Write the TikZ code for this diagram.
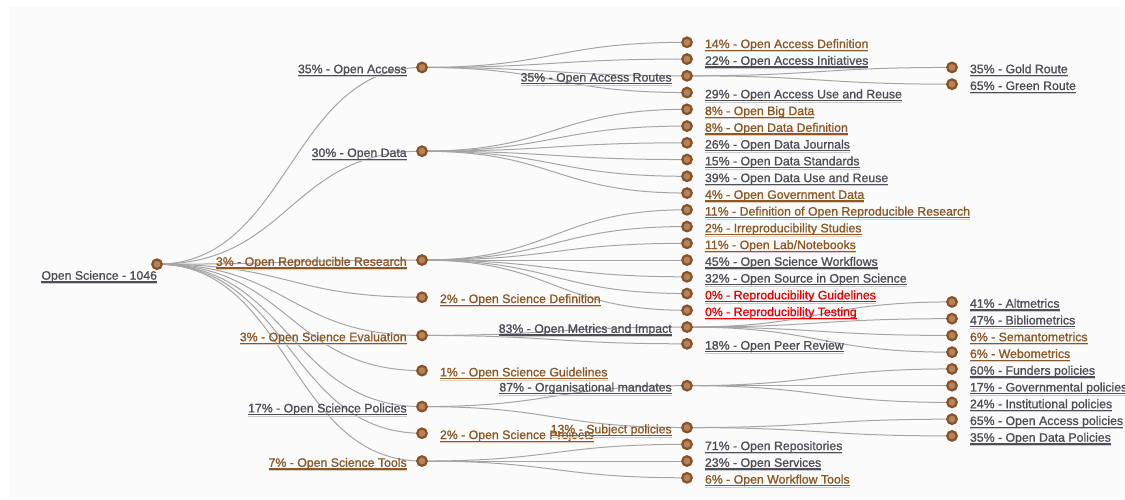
\documentclass[tikz,border=0pt]{standalone}
\usepackage{fontspec}
\setmainfont{Liberation Sans}[FakeBold=1.1]
\usetikzlibrary{calc}
\pgfdeclarelayer{bg}
\pgfsetlayers{bg,main}
\definecolor{txtgray}{RGB}{78,78,88}
\definecolor{txtbrown}{RGB}{139,88,38}
\definecolor{txtred}{RGB}{235,0,0}
\definecolor{ringbrown}{RGB}{138,80,38}
\definecolor{dotfill}{RGB}{180,132,90}
\definecolor{linkgray}{RGB}{165,165,165}
\definecolor{bgpanel}{RGB}{251,251,251}
\tikzset{
  dot/.style={circle, draw=ringbrown, fill=dotfill, line width=2.2pt, minimum size=9.5pt, inner sep=0pt},
  lbl/.style={inner sep=0pt, outer sep=0pt, font=\fontsize{12.3}{14}\selectfont},
  link/.style={draw=linkgray, line width=1pt},
}
\newcommand\Dot[3]{\node[dot] (#1) at (#2,{42.3+16.75*(#3)}) {};}
\newcommand\ULine[2]{%
  \draw[#2, line width=1.2pt] ([yshift=-2.2pt]#1.base west) -- ([yshift=-2.2pt]#1.base east);
  \draw[#2!30, line width=0.8pt] ([yshift=-3.6pt]#1.base west) -- ([yshift=-3.6pt]#1.base east);}
\newcommand\LabR[3]{%
  \node[lbl, text=#2, anchor=base west] (#1-t) at ([xshift=18pt,yshift=-5.8pt]#1.center) {#3};
  \ULine{#1-t}{#2}}
\newcommand\LabL[3]{%
  \node[lbl, text=#2, anchor=base east] (#1-t) at ([xshift=-15.3pt,yshift=-5.8pt]#1.center) {#3};
  \ULine{#1-t}{#2}}
\newcommand\Lnk[2]{\draw[link] let \p1=(#1.center), \p2=(#2.center) in
  (\p1) .. controls ({0.5*\x1+0.5*\x2},\y1) and ({0.5*\x1+0.5*\x2},\y2) .. (\p2);}
\begin{document}
\begin{tikzpicture}[x=1pt,y=-1pt]
\useasboundingbox (0,0) rectangle (1125,499);
% nodes
\node[dot] (root) at (157,264.2) {};
\Dot{oa}{422}{1.5}
\Dot{od}{422}{6.5}
\Dot{orr}{422}{13}
\Dot{osd}{422}{15.22}
\Dot{ose}{422}{17.5}
\Dot{osg}{422}{19.6}
\Dot{osp}{422}{21.75}
\Dot{ospr}{422}{23.34}
\Dot{ost}{422}{25}
% level 2
\Dot{oadef}{687}{0}
\Dot{oaini}{687}{1}
\Dot{oarou}{687}{2}
\Dot{oause}{687}{3}
\Dot{obd}{687}{4}
\Dot{oddef}{687}{5}
\Dot{odj}{687}{6}
\Dot{ods}{687}{7}
\Dot{odu}{687}{8}
\Dot{ogd}{687}{9}
\Dot{dorr}{687}{10}
\Dot{irr}{687}{11}
\Dot{lab}{687}{12}
\Dot{osw}{687}{13}
\Dot{oss}{687}{14}
\Dot{rg}{687}{15}
\Dot{rt}{687}{16}
\Dot{omi}{687}{17}
\Dot{opr}{687}{18}
\Dot{orgm}{687}{20.5}
\Dot{subj}{687}{23}
\Dot{orep}{687}{24}
\Dot{oser}{687}{25}
\Dot{owt}{687}{26}
% level 3
\Dot{gold}{952}{1.5}
\Dot{green}{952}{2.5}
\Dot{altm}{952}{15.5}
\Dot{bib}{952}{16.5}
\Dot{sem}{952}{17.5}
\Dot{web}{952}{18.5}
\Dot{fund}{952}{19.5}
\Dot{gov}{952}{20.5}
\Dot{inst}{952}{21.5}
\Dot{oap}{952}{22.5}
\Dot{odp}{952}{23.5}
% links
\begin{pgfonlayer}{bg}
\fill[bgpanel] (9,7) rectangle (1125,499);
\foreach \c in {oa,od,orr,osd,ose,osg,osp,ospr,ost} {\Lnk{root}{\c}}
\foreach \c in {oadef,oaini,oarou,oause} {\Lnk{oa}{\c}}
\foreach \c in {gold,green} {\Lnk{oarou}{\c}}
\foreach \c in {obd,oddef,odj,ods,odu,ogd} {\Lnk{od}{\c}}
\foreach \c in {dorr,irr,lab,osw,oss,rg,rt} {\Lnk{orr}{\c}}
\foreach \c in {omi,opr} {\Lnk{ose}{\c}}
\foreach \c in {altm,bib,sem,web} {\Lnk{omi}{\c}}
\foreach \c in {orgm,subj} {\Lnk{osp}{\c}}
\foreach \c in {fund,gov,inst} {\Lnk{orgm}{\c}}
\foreach \c in {oap,odp} {\Lnk{subj}{\c}}
\foreach \c in {orep,oser,owt} {\Lnk{ost}{\c}}
\end{pgfonlayer}
% labels
\node[lbl, text=txtgray, anchor=base east] (root-t) at ([yshift=-15.5pt]root.center) {Open Science - 1046};
\ULine{root-t}{txtgray}
\LabL{oa}{txtgray}{35\% - Open Access}
\LabL{od}{txtgray}{30\% - Open Data}
\LabL{orr}{txtbrown}{3\% - Open Reproducible Research}
\LabR{osd}{txtbrown}{2\% - Open Science Definition}
\LabL{ose}{txtbrown}{3\% - Open Science Evaluation}
\LabR{osg}{txtbrown}{1\% - Open Science Guidelines}
\LabL{osp}{txtgray}{17\% - Open Science Policies}
\LabR{ospr}{txtbrown}{2\% - Open Science Projects}
\LabL{ost}{txtbrown}{7\% - Open Science Tools}
\LabR{oadef}{txtbrown}{14\% - Open Access Definition}
\LabR{oaini}{txtgray}{22\% - Open Access Initiatives}
\LabL{oarou}{txtgray}{35\% - Open Access Routes}
\LabR{oause}{txtgray}{29\% - Open Access Use and Reuse}
\LabR{obd}{txtbrown}{8\% - Open Big Data}
\LabR{oddef}{txtbrown}{8\% - Open Data Definition}
\LabR{odj}{txtgray}{26\% - Open Data Journals}
\LabR{ods}{txtgray}{15\% - Open Data Standards}
\LabR{odu}{txtgray}{39\% - Open Data Use and Reuse}
\LabR{ogd}{txtbrown}{4\% - Open Government Data}
\LabR{dorr}{txtbrown}{11\% - Definition of Open Reproducible Research}
\LabR{irr}{txtbrown}{2\% - Irreproducibility Studies}
\LabR{lab}{txtbrown}{11\% - Open Lab/Notebooks}
\LabR{osw}{txtgray}{45\% - Open Science Workflows}
\LabR{oss}{txtgray}{32\% - Open Source in Open Science}
\LabR{rg}{txtred}{0\% - Reproducibility Guidelines}
\LabR{rt}{txtred}{0\% - Reproducibility Testing}
\LabL{omi}{txtgray}{83\% - Open Metrics and Impact}
\LabR{opr}{txtgray}{18\% - Open Peer Review}
\LabL{orgm}{txtgray}{87\% - Organisational mandates}
\LabL{subj}{txtbrown}{13\% - Subject policies}
\LabR{orep}{txtgray}{71\% - Open Repositories}
\LabR{oser}{txtgray}{23\% - Open Services}
\LabR{owt}{txtbrown}{6\% - Open Workflow Tools}
\LabR{gold}{txtgray}{35\% - Gold Route}
\LabR{green}{txtgray}{65\% - Green Route}
\LabR{altm}{txtgray}{41\% - Altmetrics}
\LabR{bib}{txtgray}{47\% - Bibliometrics}
\LabR{sem}{txtbrown}{6\% - Semantometrics}
\LabR{web}{txtbrown}{6\% - Webometrics}
\LabR{fund}{txtgray}{60\% - Funders policies}
\LabR{gov}{txtgray}{17\% - Governmental policies}
\LabR{inst}{txtgray}{24\% - Institutional policies}
\LabR{oap}{txtgray}{65\% - Open Access policies}
\LabR{odp}{txtgray}{35\% - Open Data Policies}
\end{tikzpicture}
\end{document}
